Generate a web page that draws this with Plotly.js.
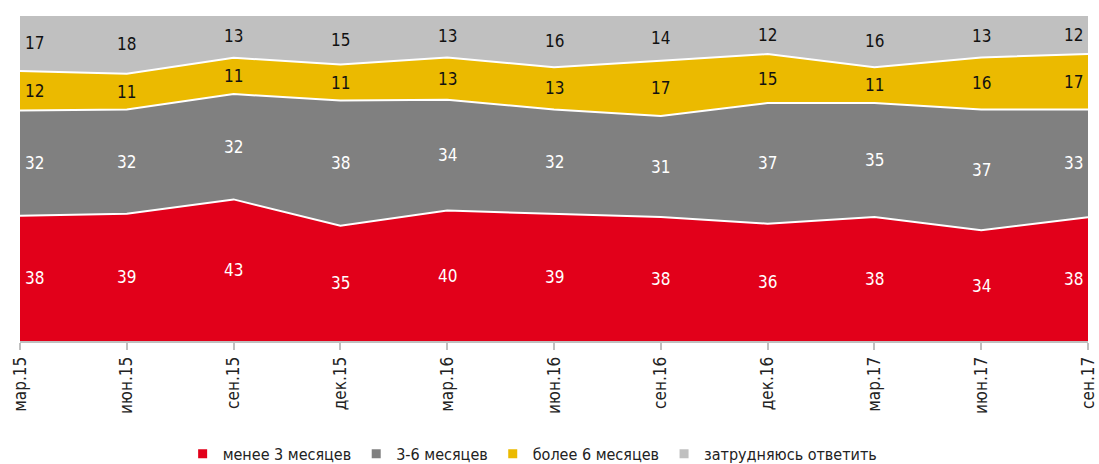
<!DOCTYPE html>
<html><head><meta charset="utf-8">
<script src="https://cdn.plot.ly/plotly-3.0.1.min.js"></script>
<style>body{margin:0;background:#fff}#c{width:1099px;height:464px}</style>
</head><body><div id="c"></div>
<script>
const categories = ['мар.15','июн.15','сен.15','дек.15','мар.16','июн.16','сен.16','дек.16','мар.17','июн.17','сен.17'];
const less3 = [38,39,43,35,40,39,38,36,38,34,38];
const m3to6 = [32,32,32,38,34,32,31,37,35,37,33];
const more6 = [12,11,11,11,13,13,17,15,11,16,17];
const hard = [17,18,13,15,13,16,14,12,16,13,12];
const seriesNames = ['менее 3 месяцев','3-6 месяцев','более 6 месяцев','затрудняюсь ответить'];

const series = [less3, m3to6, more6, hard];
const colors = ['#e2001a','#808080','#ebba00','#c0c0c0'];
const textColors = ['#ffffff','#ffffff','#111111','#111111'];
const FONT = '"DejaVu Sans Condensed","Liberation Sans Narrow",sans-serif';

const traces = [];
series.forEach((s,i)=>{
  traces.push({x:categories,y:s,type:'scatter',mode:'lines',stackgroup:'one',groupnorm:'percent',
    line:{color:'#ffffff',width:2},fillcolor:colors[i],showlegend:false,hoverinfo:'skip'});
});
series.forEach((s,i)=>{
  traces.push({x:[null],y:[null],type:'scatter',mode:'markers',name:seriesNames[i],
    marker:{symbol:'square',size:9,color:colors[i]},showlegend:true});
});

const annotations = [];
categories.forEach((c,j)=>{
  const total = series.reduce((a,s)=>a+s[j],0);
  let cum = 0;
  series.forEach((s,i)=>{
    const v = s[j]/total*100;
    const mid = cum + v/2;
    cum += v;
    annotations.push({x:c,y:mid,text:String(s[j]),showarrow:false,
      xanchor: j===0?'left':(j===categories.length-1?'right':'center'),
      xshift: j===0?3:(j===categories.length-1?-3:0),
      font:{family:FONT,size:17,color:textColors[i]}});
  });
});

const layout = {
  width:1099,height:464,
  margin:{l:20,r:11,t:15,b:123},
  paper_bgcolor:'#fff',plot_bgcolor:'#fff',
  font:{family:FONT,size:15,color:'#222'},
  xaxis:{type:'category',range:[0,categories.length-1],tickangle:-90,ticks:'outside',ticklen:7,
    tickcolor:'#bfbfbf',tickwidth:2,showline:true,linecolor:'#bfbfbf',linewidth:2,showgrid:false,
    zeroline:false,automargin:false,tickfont:{family:FONT,size:17,color:'#222'}},
  yaxis:{range:[0,100],visible:false,showgrid:false,zeroline:false,automargin:false},
  showlegend:true,
  legend:{orientation:'h',x:0.48,xanchor:'center',yref:'container',y:0.022,yanchor:'middle',
    traceorder:'normal',font:{family:FONT,size:16,color:'#222'},itemwidth:30,tracegroupgap:0},
  annotations:annotations
};
Plotly.newPlot('c',traces,layout,{displayModeBar:false,staticPlot:true});
</script></body></html>
